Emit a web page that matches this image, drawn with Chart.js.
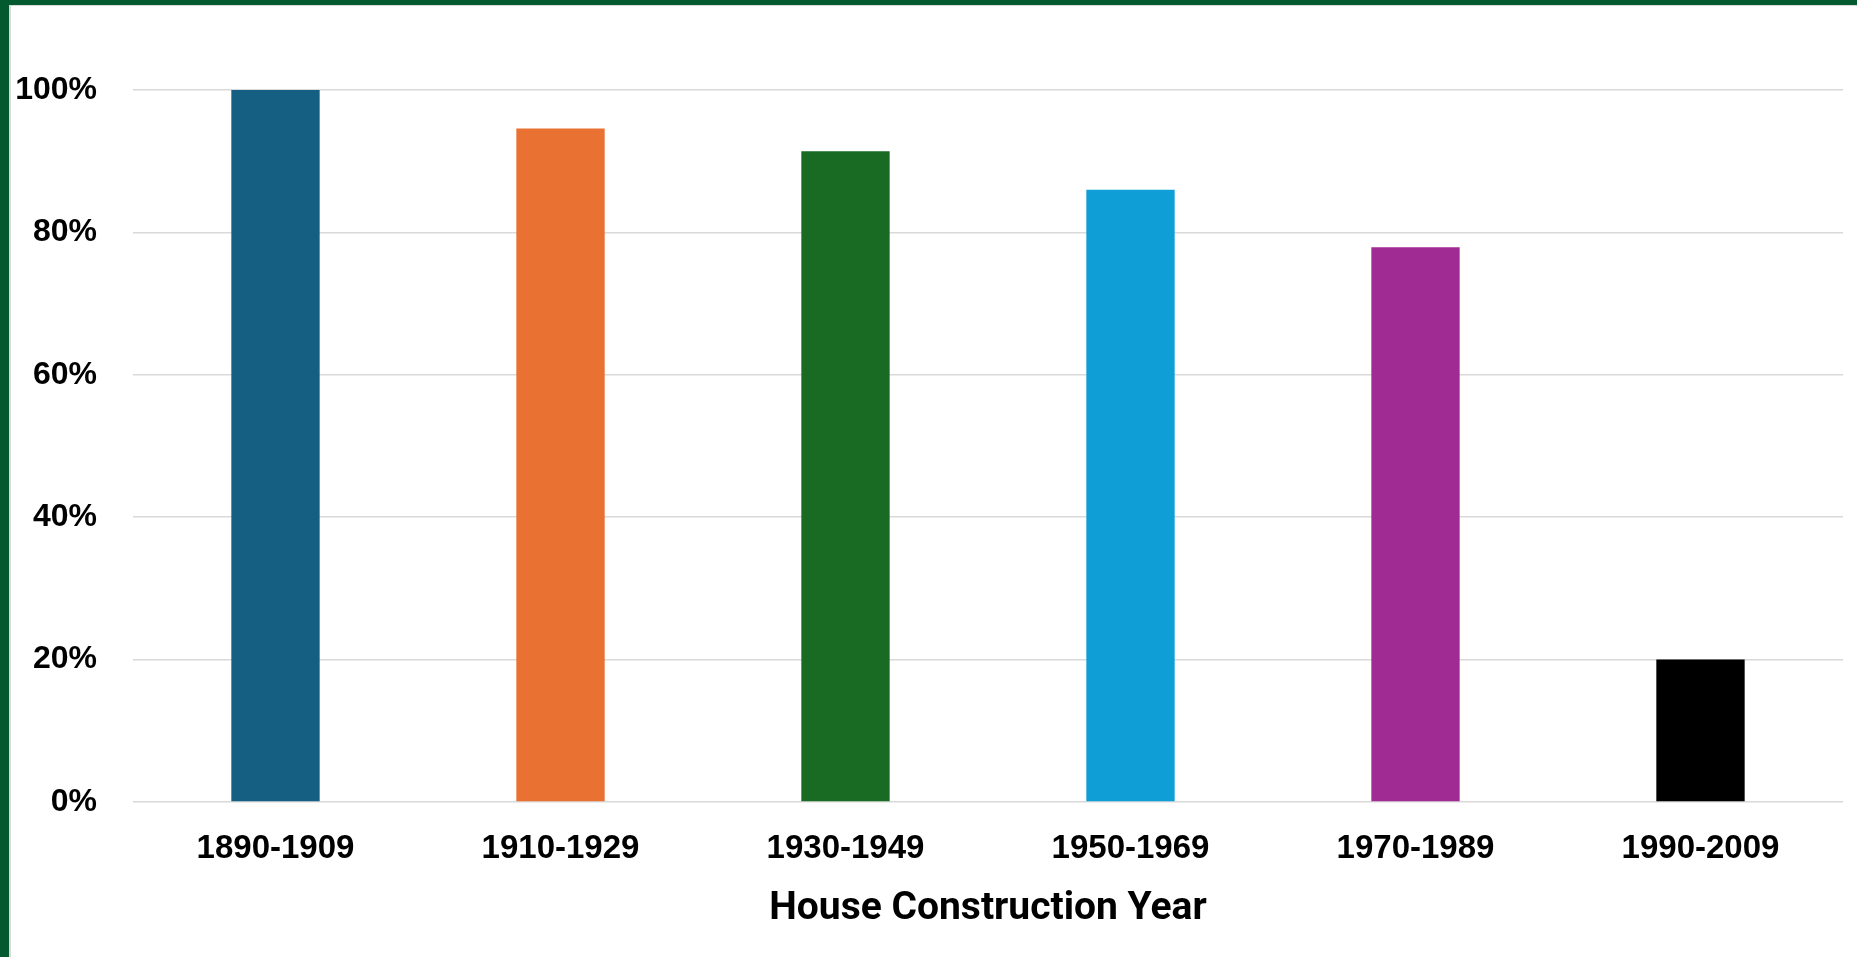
<!DOCTYPE html>
<html>
<head>
<meta charset="utf-8">
<script src="https://cdn.jsdelivr.net/npm/chart.js@4/dist/chart.umd.min.js"></script>
<style>
  html, body { margin: 0; padding: 0; background: #fff; }
  body { width: 1857px; height: 957px; position: relative; overflow: hidden; }
  .frame {
    position: absolute; left: 0; top: 0; right: 0; bottom: 0;
    border-top: 5px solid #035A2E;
    border-left: 9px solid #035A2E;
  }
  .inner {
    position: absolute; left: 9px; top: 5px; right: 0; bottom: 0;
    border-top: 1px solid #D9D9D9;
    border-left: 2px solid #D9D9D9;
  }
  .chart-box { position: absolute; left: 11px; top: 6px; width: 1846px; height: 951px; }
</style>
</head>
<body>
<div class="frame"></div>
<div class="inner"></div>
<div class="chart-box"><canvas id="barChart"></canvas></div>
<script>
const periods = ['1890-1909', '1910-1929', '1930-1949', '1950-1969', '1970-1989', '1990-2009'];
const shares = [100, 94.6, 91.4, 86.0, 77.9, 20];
const barColors = ['#156082', '#E97132', '#196B24', '#0F9ED5', '#A02B93', '#000000'];

const yTickFont = { family: '"Liberation Sans", Arial, sans-serif', size: 32, weight: 'bold', lineHeight: 1 };
const xTickFont = { family: '"Liberation Sans", Arial, sans-serif', size: 33, weight: 'bold', lineHeight: 1 };

const config = {
    type: 'bar',
    data: {
        labels: periods,
        datasets: [{
            data: shares,
            backgroundColor: barColors,
            borderWidth: 0,
            categoryPercentage: 1,
            barPercentage: 0.31
        }]
    },
    options: {
        responsive: true,
        maintainAspectRatio: false,
        animation: false,
        layout: { padding: { left: 0, right: 14, top: 84, bottom: 28 } },
        plugins: {
            legend: { display: false },
            tooltip: { enabled: false }
        },
        scales: {
            x: {
                grid: { display: false, drawTicks: false },
                border: { display: false },
                ticks: { color: '#000', font: xTickFont, padding: 30, maxRotation: 0 },
                title: {
                    display: true,
                    text: 'House Construction Year',
                    color: '#000',
                    font: { family: 'Roboto, sans-serif', size: 39, weight: 'bold', lineHeight: 1 },
                    padding: { top: 0, bottom: 0 }
                },
                afterFit: scale => { scale.height = 127; }
            },
            y: {
                min: 0,
                max: 100,
                grid: { color: '#D9D9D9', lineWidth: 1.5, drawTicks: false },
                border: { display: false },
                ticks: {
                    stepSize: 20,
                    color: '#000',
                    font: yTickFont,
                    padding: 36,
                    callback: v => v + '%'
                },
                afterFit: scale => { scale.width = 122; }
            }
        }
    }
};

window.onload = function() {
    const ctx = document.getElementById('barChart').getContext('2d');
    new Chart(ctx, config);
};
</script>
</body>
</html>
